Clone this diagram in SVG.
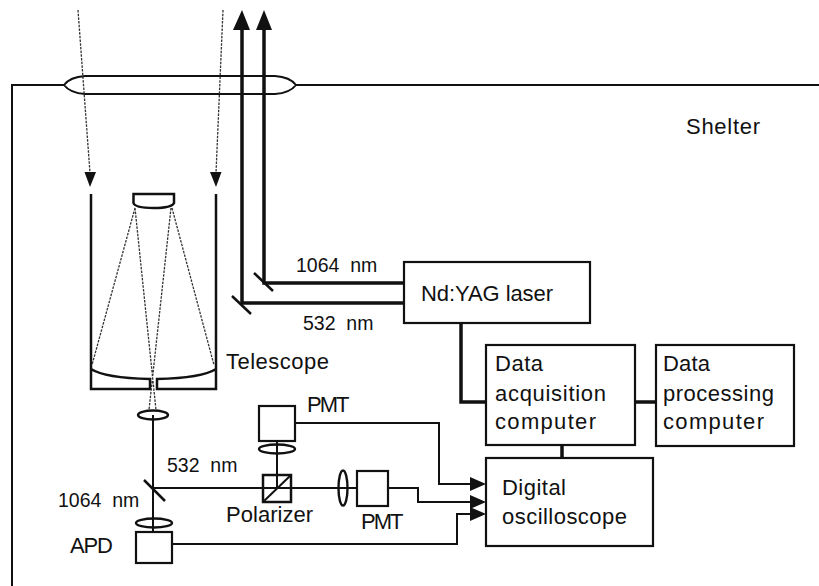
<svg xmlns="http://www.w3.org/2000/svg" width="819" height="586" viewBox="0 0 819 586">
<style>
.l{fill:none;stroke:#111;stroke-width:2}
.t{fill:none;stroke:#111;stroke-width:2.5}
.b{fill:none;stroke:#111;stroke-width:3.5}
.d{fill:none;stroke:#333;stroke-width:1.3;stroke-dasharray:2.5 1.2}
.box{fill:#fff;stroke:#111;stroke-width:2.2}
.lens{fill:none;stroke:#111;stroke-width:2.4}
.h{fill:#111;stroke:none}
text{font-family:"Liberation Sans",Arial,sans-serif;font-size:22px;fill:#111;white-space:pre}
.s{font-size:19.5px}
</style>
<rect width="819" height="586" fill="#fff"/>
<g id="shelter">
<path class="l" d="M12,586 V85 H64 M296,85 H819"/>
<text x="686" y="134" textLength="74">Shelter</text>
</g>
<g id="window">
<path class="l" d="M64,85 Q70,77 85,76 L275,76 Q290,77 296,85 Q290,93 275,94 L85,94 Q70,93 64,85 Z"/>
</g>
<g id="telescope">
<path class="t" d="M91,194 V389 H150 V379 Q105,378 91,369 M216,194 V389 H157 V379 Q202,378 216,369"/>
<path class="t" d="M133.500,194 H174 V203 Q172,208 153.500,208 Q135,208 133.500,203 Z"/>
<text x="226" y="369" textLength="103">Telescope</text>
</g>
<g id="lens-telescope"><ellipse class="lens" cx="153" cy="415" rx="15" ry="4.500"/></g>
<g id="connectors">
<path class="d" d="M78,10 L90,173 M223,10 L216,173"/>
<path class="d" d="M135,208 L92,365 M172,208 L214,365 M135,208 L156,410 M171,208 L149,410"/>
<path class="h" d="M84.500,172 H96 L90,187 Z M210,172 H221.500 L216,187 Z"/>
<path class="b" d="M404,283 H264 V28 M404,303 H242 V28"/>
<path class="h" d="M233,30 H250 L242,10 Z M256,30 H272 L264,10 Z"/>
<path class="t" d="M254,273 L273,291 M232,296 L251,314"/>
<path class="l" d="M153,415 V532 M153,488 H343 M343,488 H357 M277,441 V488"/>
<path class="t" d="M144,480 L165,501"/>
<path class="l" d="M295,423 H439 V484 H472 M388,488 H418 V502 H472 M172,544 H457 V514 H472"/>
<path class="h" d="M470,477 L486,484 L470,491 Z M470,495 L486,502 L470,509 Z M470,507 L486,514 L470,521 Z"/>
<path class="b" d="M461,323 V402 H486 M635,402 H656 M562,445 V458"/>
</g>
<g id="pmt-top"><rect class="box" x="259" y="406" width="36" height="35"/><ellipse class="lens" cx="277" cy="449" rx="18" ry="4.500"/><text x="307" y="412" letter-spacing="-2">PMT</text></g>
<g id="polarizer"><rect x="263" y="475" width="28" height="27" fill="none" stroke="#111" stroke-width="2.500"/><path class="l" d="M263,502 L291,475"/><text x="226" y="522" textLength="87">Polarizer</text></g>
<g id="pmt-right"><ellipse class="lens" cx="343" cy="488" rx="4.500" ry="17.500"/><rect class="box" x="357" y="471" width="31" height="35"/><text x="361" y="529" letter-spacing="-2">PMT</text></g>
<g id="apd"><ellipse class="lens" cx="154" cy="523" rx="18" ry="4.500"/><rect class="box" x="136" y="532" width="36" height="31"/><text x="70" y="553" textLength="43">APD</text></g>
<g id="laser"><rect class="box" x="404" y="262" width="186" height="61"/><text x="421" y="301" textLength="132">Nd:YAG laser</text></g>
<g id="acquisition"><rect class="box" x="486" y="345" width="149" height="100"/><text x="495" y="371" textLength="48">Data</text><text x="495" y="401" textLength="111">acquisition</text><text x="495" y="429" textLength="101">computer</text></g>
<g id="processing"><rect class="box" x="656" y="345" width="138" height="101"/><text x="663" y="371" textLength="47">Data</text><text x="663" y="401" textLength="111">processing</text><text x="663" y="429" textLength="101">computer</text></g>
<g id="oscilloscope"><rect class="box" x="486" y="458" width="167" height="88"/><text x="502" y="495" textLength="64">Digital</text><text x="502" y="524" textLength="125">oscilloscope</text></g>
<g id="labels">
<text class="s" x="296" y="272">1064  nm</text>
<text class="s" x="303" y="330">532  nm</text>
<text class="s" x="167" y="472">532  nm</text>
<text class="s" x="58" y="507">1064  nm</text>
</g>
</svg>
